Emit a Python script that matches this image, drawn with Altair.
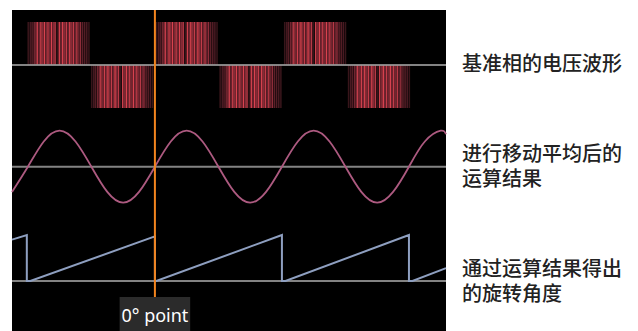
import altair as alt
import pandas as pd

# ---------------- data (x in electrical degrees, 0 deg = orange marker) ----------------
sine_deg = [-405, -360, -315, -270, -225, -180, -135, -90, -45, 0, 45, 90, 135, 180,
            225, 270, 315, 360, 405, 450, 495, 540, 585, 630, 675, 720, 765, 810, 825]
sine_val = [-0.7, 0, 0.7, 1, 0.7, 0, -0.7, -1, -0.7, 0, 0.7, 1, 0.7, 0,
            -0.7, -1, -0.7, 0, 0.7, 1, 0.7, 0, -0.7, -1, -0.7, 0, 0.7, 1, 0.9]

saw_deg = [-405, -363, -363, -353, 0, 0, 4, 360, 360, 370, 720, 720, 730, 825]
saw_val = [0.9, 1.0, 0, 0, 0.97, 0, 0, 1.0, 0, 0, 1.0, 0, 0, 0.28]

pwm_block_start = [-363, -183, 0, 181, 364, 545]
pwm_block_sign = [1, -1, 1, -1, 1, -1]
pwm_bar_offset = [4, 10, 15, 21, 26, 30, 35, 40, 45, 50, 55, 60, 65, 70, 75, 80, 86,
                  92, 97, 102, 107, 112, 117, 122, 127, 132, 137, 142, 147, 152, 158,
                  164, 170, 176]
pwm_bar_shade = [0.2, 0.3, 0.35, 0.5, 0.55, 0.9, 0.5, 0.95, 0.6, 1.0, 0.55, 0.9, 0.5,
                 1.0, 0.6, 0.85, 0.2, 0.95, 0.55, 1.0, 0.6, 0.9, 0.5, 1.0, 0.6, 0.9,
                 0.5, 0.85, 0.45, 0.65, 0.4, 0.35, 0.3, 0.2]

label_lines = ["基准相的电压波形", "进行移动平均后的", "运算结果", "通过运算结果得出", "的旋转角度"]
marker_label = ["0° point"]

# ---------------- layout constants ----------------
X0, X1 = -405, 825
H = 321
BASE = [55, 156.7, 271]     # panel baselines (units from top)
AMP = [43, 36, 46]
LABEL_Y = [55, 145, 170, 260, 285]
LABEL_X = 870

xs = alt.Scale(domain=[X0, X1], nice=False, zero=False)
ys = alt.Scale(domain=[0, H], reverse=True, nice=False, zero=False)

# PWM bars
rows = []
for s, sg in zip(pwm_block_start, pwm_block_sign):
    for o, sh in zip(pwm_bar_offset, pwm_bar_shade):
        rows.append({"x": s + o, "y": BASE[0], "y2": BASE[0] - sg * AMP[0], "shade": sh})
pwm_df = pd.DataFrame(rows)

pwm = alt.Chart(pwm_df).mark_rule(strokeWidth=1.6).encode(
    x=alt.X("x:Q", scale=xs, axis=None),
    y=alt.Y("y:Q", scale=ys, axis=None),
    y2="y2:Q",
    color=alt.Color("shade:Q", scale=alt.Scale(domain=[0, 1], range=["#160406", "#d8424f"]), legend=None),
)

base_df = pd.DataFrame({"x": [X0] * 3, "x2": [X1] * 3, "y": BASE})
baselines = alt.Chart(base_df).mark_rule(color="#9a9a9a", strokeWidth=2, opacity=0.85).encode(
    x=alt.X("x:Q", scale=xs), x2="x2:Q", y=alt.Y("y:Q", scale=ys)
)

sine_df = pd.DataFrame({"x": sine_deg, "v": sine_val})
sine_df["y"] = BASE[1] - AMP[1] * sine_df["v"]
sine = alt.Chart(sine_df).mark_line(color="#ad5a80", strokeWidth=1.8, interpolate="natural").encode(
    x=alt.X("x:Q", scale=xs), y=alt.Y("y:Q", scale=ys)
)

saw_df = pd.DataFrame({"x": saw_deg, "v": saw_val, "o": list(range(len(saw_deg)))})
saw_df["y"] = BASE[2] - AMP[2] * saw_df["v"]
saw = alt.Chart(saw_df).mark_line(color="#8e9fc0", strokeWidth=2).encode(
    x=alt.X("x:Q", scale=xs), y=alt.Y("y:Q", scale=ys), order="o:Q"
)

marker_df = pd.DataFrame({"x": [0], "y": [0], "y2": [287]})
marker = alt.Chart(marker_df).mark_rule(color="#f2841e", strokeWidth=2).encode(
    x=alt.X("x:Q", scale=xs), y=alt.Y("y:Q", scale=ys), y2="y2:Q"
)

box_df = pd.DataFrame({"x": [-100], "x2": [100], "y": [287], "y2": [H]})
box = alt.Chart(box_df).mark_rect(color="#2b2b2b").encode(
    x=alt.X("x:Q", scale=xs), x2="x2:Q", y=alt.Y("y:Q", scale=ys), y2="y2:Q"
)

mtext_df = pd.DataFrame({"x": [0], "y": [312], "t": marker_label})
mtext = alt.Chart(mtext_df).mark_text(
    font="Noto Sans", fontSize=18, color="white", align="center", baseline="alphabetic"
).encode(x=alt.X("x:Q", scale=xs), y=alt.Y("y:Q", scale=ys), text="t:N")

lab_df = pd.DataFrame({"x": [LABEL_X] * 5, "y": LABEL_Y, "t": label_lines})
labels = alt.Chart(lab_df).mark_text(
    font="Noto Sans CJK SC", fontSize=20, fontWeight=500, color="#222222",
    align="left", baseline="middle"
).encode(x=alt.X("x:Q", scale=xs), y=alt.Y("y:Q", scale=ys), text="t:N")

chart = alt.layer(pwm, baselines, sine, saw, marker, box, mtext, labels).properties(
    width=434, height=H,
    autosize=alt.AutoSizeParams(type="none"),
    padding={"left": 4, "top": 2, "right": 184, "bottom": 0},
    background="white",
).configure_view(fill="black", strokeWidth=0)

chart.save("out.html", embed_options={"renderer": "svg", "actions": False})
